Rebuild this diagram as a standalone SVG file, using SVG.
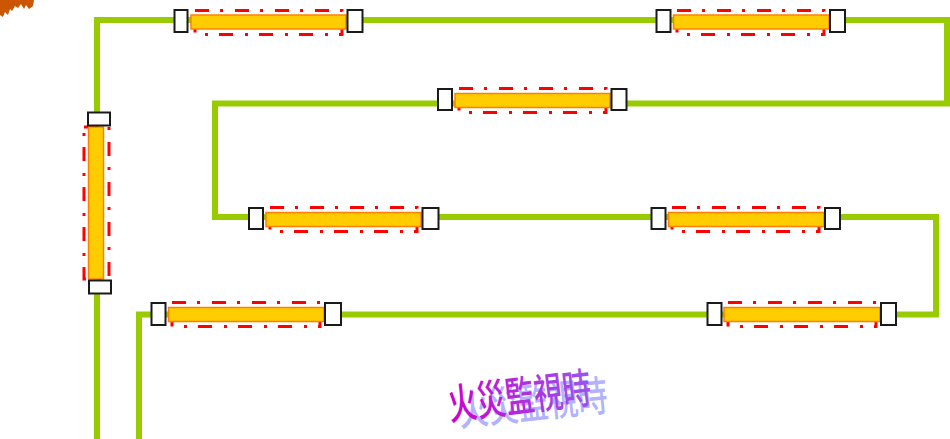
<svg xmlns="http://www.w3.org/2000/svg" width="950" height="439" viewBox="0 0 950 439">
  <style>
    .wire { fill: none; stroke: #99CC00; stroke-width: 6; stroke-linejoin: miter; }
    .tube { fill: #FFCC00; stroke: #FF8000; stroke-width: 1.5; }
    .cap { fill: #FFFFFF; stroke: #1A1A1A; stroke-width: 2; }
    .guard { fill: none; stroke: #FF0000; stroke-width: 3; stroke-dasharray: 14 11 3 12; }
    .label { font-family: "Noto Sans CJK TC", "Noto Sans CJK JP", sans-serif; font-size: 42px; font-weight: 500; }
  </style>
  <defs>
    <linearGradient id="wordFill" x1="0" y1="0" x2="1" y2="0">
      <stop offset="0" stop-color="#CC00CC"/>
      <stop offset="1" stop-color="#9955EE"/>
    </linearGradient>
  </defs>

  <rect width="950" height="439" fill="#FFFFFF"/>

  <!-- flame fragment in the corner -->
  <path d="M0,0 H34 L33,6 L29,9 L26,5 L24,9 L21,4 L18,8 L15,6 L12,11 L10,9 L8,15 L5,12 L3,17 L0,15 Z" fill="#CC5500"/>

  <!-- cable run -->
  <g id="connectors">
    <path class="wire" d="M97,439 V20 H947 V103.5 H215 V217 H936 V314.5 H139 V439"/>
  </g>

  <!-- vertical fixture on the left run -->
  <g id="lamp-v">
    <rect class="guard" x="84" y="127" width="25" height="152"/>
    <rect class="tube" x="88.5" y="127" width="15" height="152"/>
    <rect class="cap" x="88" y="112.5" width="22" height="13"/>
    <rect class="cap" x="89" y="280.5" width="22" height="13"/>
  </g>

  <!-- row 1 -->
  <g id="lamp-1a">
    <rect class="guard" x="195" y="10.5" width="147" height="24"/>
    <rect class="tube" x="191" y="15" width="155" height="14"/>
    <rect class="cap" x="174.5" y="10" width="13" height="22"/>
    <rect class="cap" x="347.5" y="10" width="15" height="22"/>
  </g>
  <g id="lamp-1b">
    <rect class="guard" x="677" y="10.5" width="147" height="24"/>
    <rect class="tube" x="673.5" y="15" width="155.5" height="14"/>
    <rect class="cap" x="656.5" y="10" width="14" height="22"/>
    <rect class="cap" x="830" y="10" width="15" height="22"/>
  </g>

  <!-- row 2 -->
  <g id="lamp-2a">
    <rect class="guard" x="459" y="88.5" width="147" height="24"/>
    <rect class="tube" x="455" y="93.5" width="155" height="14"/>
    <rect class="cap" x="438" y="89" width="14" height="21"/>
    <rect class="cap" x="611.5" y="89" width="15" height="21"/>
  </g>

  <!-- row 3 -->
  <g id="lamp-3a">
    <rect class="guard" x="270" y="207.5" width="147" height="24"/>
    <rect class="tube" x="266" y="212.5" width="155" height="14"/>
    <rect class="cap" x="249" y="208" width="14" height="21"/>
    <rect class="cap" x="422.5" y="208" width="16" height="21"/>
  </g>
  <g id="lamp-3b">
    <rect class="guard" x="672" y="207.5" width="147" height="24"/>
    <rect class="tube" x="668.5" y="212.5" width="155.5" height="14"/>
    <rect class="cap" x="651.5" y="208" width="14" height="21"/>
    <rect class="cap" x="825" y="208" width="15" height="21"/>
  </g>

  <!-- row 4 -->
  <g id="lamp-4a">
    <rect class="guard" x="172" y="302.5" width="148" height="24"/>
    <rect class="tube" x="168.5" y="307.5" width="155.5" height="14"/>
    <rect class="cap" x="151.5" y="303" width="14" height="22"/>
    <rect class="cap" x="325" y="303" width="16" height="22"/>
  </g>
  <g id="lamp-4b">
    <rect class="guard" x="728" y="302.5" width="148" height="24"/>
    <rect class="tube" x="724" y="307.5" width="156" height="14"/>
    <rect class="cap" x="707.5" y="303" width="14" height="22"/>
    <rect class="cap" x="881" y="303" width="15" height="22"/>
  </g>

  <!-- caption with drop shadow -->
  <g id="caption">
    <text class="label" x="460" y="426" fill="#9999FF" fill-opacity="0.75" textLength="150" lengthAdjust="spacingAndGlyphs" transform="rotate(-6 460 426)">火災監視時</text>
    <text class="label" x="450" y="420" fill="url(#wordFill)" textLength="144" lengthAdjust="spacingAndGlyphs" transform="rotate(-7 450 420)">火災監視時</text>
  </g>
</svg>
